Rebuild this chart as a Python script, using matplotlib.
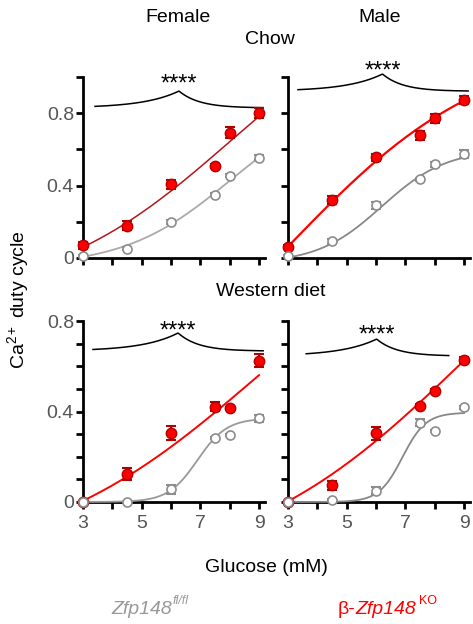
import numpy as np
import matplotlib
matplotlib.use('Agg')
import matplotlib.pyplot as plt

plt.rcParams['font.family'] = ['Liberation Sans', 'DejaVu Sans']
plt.rcParams['mathtext.fontset'] = 'custom'
plt.rcParams['mathtext.rm'] = 'Liberation Sans'
plt.rcParams['mathtext.it'] = 'Liberation Sans:italic'
plt.rcParams['mathtext.bf'] = 'Liberation Sans:bold'

# ---------------- data ----------------
glucose = [3, 4.5, 6, 7.5, 8, 9]

f_chow_ctrl = [0.01, 0.052, 0.198, 0.35, 0.455, 0.553]
f_chow_ctrl_err = [0.005, 0.008, 0.01, 0.008, 0.01, 0.015]
f_chow_ko = [0.07, 0.178, 0.408, 0.509, 0.691, 0.80]
f_chow_ko_err = [0.02, 0.025, 0.025, 0.01, 0.03, 0.025]

m_chow_ctrl = [0.01, 0.092, 0.29, 0.434, 0.517, 0.574]
m_chow_ctrl_err = [0.005, 0.015, 0.02, 0.01, 0.015, 0.02]
m_chow_ko = [0.063, 0.32, 0.555, 0.677, 0.771, 0.872]
m_chow_ko_err = [0.01, 0.02, 0.02, 0.025, 0.025, 0.02]

f_wd_ctrl = [0.0, 0.0, 0.056, 0.284, 0.296, 0.37]
f_wd_ctrl_err = [0.0, 0.0, 0.02, 0.005, 0.005, 0.015]
f_wd_ko = [0.0, 0.124, 0.306, 0.421, 0.414, 0.625]
f_wd_ko_err = [0.0, 0.025, 0.03, 0.02, 0.005, 0.03]

m_wd_ctrl = [0.0, 0.009, 0.05, 0.35, 0.315, 0.418]
m_wd_ctrl_err = [0.0, 0.005, 0.015, 0.015, 0.005, 0.005]
m_wd_ko = [0.0, 0.075, 0.303, 0.424, 0.49, 0.628]
m_wd_ko_err = [0.0, 0.02, 0.03, 0.01, 0.01, 0.015]

# fitted curve parameters (bottom, top, midpoint, scale)
fit_f_chow_ctrl = (-0.0487, 0.901, 8.0, 1.8)
fit_f_chow_ko = (-0.2296, 1.513, 8.0, 3.1)
fit_m_chow_ctrl = (-0.03, 0.60, 6.2, 1.1)
fit_m_chow_ko = (-1.074, 1.2, 3.0, 3.397)
fit_f_wd_ctrl = (0.0, 0.37, 6.9, 0.5)
fit_f_wd_ko = (-0.2835, 1.405, 9.0, 3.8)
fit_m_wd_ctrl = (0.0, 0.395, 6.9, 0.4)
fit_m_wd_ko = (-0.32, 1.57, 9.0, 3.8)

# significance bracket: (x_start, x_end, x_peak, level, peak, star_y)
sig_f_chow = (3.41, 9.14, 6.27, 0.828, 0.921, 0.925)
sig_m_chow = (3.34, 9.14, 6.22, 0.92, 1.015, 0.995)
sig_f_wd = (3.34, 9.14, 6.24, 0.667, 0.747, 0.725)
sig_m_wd = (3.62, 8.48, 6.02, 0.645, 0.72, 0.71)

x_ticks = [3, 4, 5, 6, 7, 8, 9]
x_labels = ['3', '', '5', '', '7', '', '9']

RED = '#ff0000'
RED_EDGE = '#b00000'
DARKRED = '#b3161b'
GRAY_EDGE = '#8c8c8c'


def logistic(x, b, t, m, s):
    return b + (t - b) / (1 + np.exp(-(x - m) / s))


W, H = 473, 624
fig = plt.figure(figsize=(W / 100, H / 100), dpi=100)


def ax_at(left, bottom, width, height):
    return fig.add_axes([left / W, 1 - bottom / H, width / W, height / H])


panels = [
    dict(pos=(83, 258, 181.9, 181.25), ymax=1.0, ystep=0.2, bottom_row=False, left_col=True,
         ctrl=(f_chow_ctrl, f_chow_ctrl_err), ko=(f_chow_ko, f_chow_ko_err),
         fc=fit_f_chow_ctrl, fk=fit_f_chow_ko, sig=sig_f_chow,
         ccol='#aaaaaa', kcol=DARKRED, klw=1.1),
    dict(pos=(288, 258, 181.9, 181.25), ymax=1.0, ystep=0.2, bottom_row=False, left_col=False,
         ctrl=(m_chow_ctrl, m_chow_ctrl_err), ko=(m_chow_ko, m_chow_ko_err),
         fc=fit_m_chow_ctrl, fk=fit_m_chow_ko, sig=sig_m_chow,
         ccol='#888888', kcol=RED, klw=1.6),
    dict(pos=(83, 502, 181.9, 181), ymax=0.8, ystep=0.1, bottom_row=True, left_col=True,
         ctrl=(f_wd_ctrl, f_wd_ctrl_err), ko=(f_wd_ko, f_wd_ko_err),
         fc=fit_f_wd_ctrl, fk=fit_f_wd_ko, sig=sig_f_wd,
         ccol='#999999', kcol=RED, klw=1.4),
    dict(pos=(288, 502, 181.9, 181), ymax=0.8, ystep=0.1, bottom_row=True, left_col=False,
         ctrl=(m_wd_ctrl, m_wd_ctrl_err), ko=(m_wd_ko, m_wd_ko_err),
         fc=fit_m_wd_ctrl, fk=fit_m_wd_ko, sig=sig_m_wd,
         ccol='#888888', kcol=RED, klw=1.4),
]


def ylab(v):
    for val, s in [(0.0, '0'), (0.4, '0.4'), (0.8, '0.8')]:
        if abs(v - val) < 1e-6:
            return s
    return ''


xs = np.linspace(3, 9, 300)
for p in panels:
    ax = ax_at(*p['pos'])
    ax.set_xlim(3, 9.2)
    ax.set_ylim(0, p['ymax'])
    for s in ['top', 'right']:
        ax.spines[s].set_visible(False)
    for s in ['left', 'bottom']:
        ax.spines[s].set_linewidth(2.0)
        ax.spines[s].set_color('black')
    ax.set_xticks(x_ticks)
    ax.set_xticklabels(x_labels if p['bottom_row'] else [''] * len(x_ticks))
    yt = np.round(np.arange(0, p['ymax'] + 1e-9, p['ystep']), 2)
    ax.set_yticks(yt)
    ax.set_yticklabels([ylab(v) if p['left_col'] else '' for v in yt])
    ax.tick_params(direction='out', length=5, width=2, colors='black',
                   labelcolor='#555555', labelsize=14)
    ax.tick_params(axis='y', pad=1.5)
    ax.tick_params(axis='x', pad=4)

    # fit curves
    ax.plot(xs, logistic(xs, *p['fk']), color=p['kcol'], lw=p['klw'], zorder=3, clip_on=False)
    ax.plot(xs, logistic(xs, *p['fc']), color=p['ccol'], lw=1.3, zorder=3, clip_on=False)

    # KO points
    ky, ke = p['ko']
    ax.errorbar(glucose, ky, yerr=ke, fmt='none', ecolor=RED_EDGE, elinewidth=1.5,
                capsize=3.5, capthick=1.5, zorder=4, clip_on=False)
    ax.plot(glucose, ky, 'o', ms=7.5, mfc=RED, mec=RED_EDGE, mew=1.0, zorder=5, clip_on=False)
    # control points
    cy, ce = p['ctrl']
    ax.errorbar(glucose, cy, yerr=ce, fmt='none', ecolor=GRAY_EDGE, elinewidth=1.5,
                capsize=3.5, capthick=1.5, zorder=6, clip_on=False)
    ax.plot(glucose, cy, 'o', ms=6.5, mfc='white', mec=GRAY_EDGE, mew=1.2, zorder=7, clip_on=False)

    # significance bracket
    x0, x1, xp, lvl, pk, sy = p['sig']
    bx = np.linspace(x0, x1, 300)
    by = np.where(bx < xp, lvl + (pk - lvl) * np.exp(-(xp - bx) / 1.2),
                  lvl + (pk - lvl) * np.exp(-(bx - xp) / 0.7))
    ax.plot(bx, by, color='black', lw=1.1, zorder=3, clip_on=False)
    ax.text(xp, sy, '****', ha='center', va='baseline', fontsize=17, color='black',
            clip_on=False)


def ftext(x, y, s, ha='center', **kw):
    fig.text(x / W, 1 - y / H, s, ha=ha, va='center', **kw)


ftext(178, 18, 'Female', fontsize=14)
ftext(380, 18, 'Male', fontsize=14)
ftext(270, 40, 'Chow', fontsize=14)
ftext(271, 292, 'Western diet', fontsize=14)
ftext(18, 300, 'Ca$^{2+}$ duty cycle', fontsize=14, rotation=90)
ftext(266, 568, 'Glucose (mM)', fontsize=14)

# genotype labels
GRAY_TXT = '#999999'
ftext(172, 609, 'Zfp148', ha='right', fontsize=14, style='italic', color=GRAY_TXT)
ftext(172.5, 601, 'fl/fl', ha='left', fontsize=9, style='italic', color=GRAY_TXT)
ftext(355, 609, 'β-', ha='right', fontsize=14, color=RED)
ftext(355, 609, 'Zfp148', ha='left', fontsize=14, style='italic', color=RED)
ftext(419, 601, 'KO', ha='left', fontsize=9, color=RED)

fig.savefig('out.png', dpi=100)
